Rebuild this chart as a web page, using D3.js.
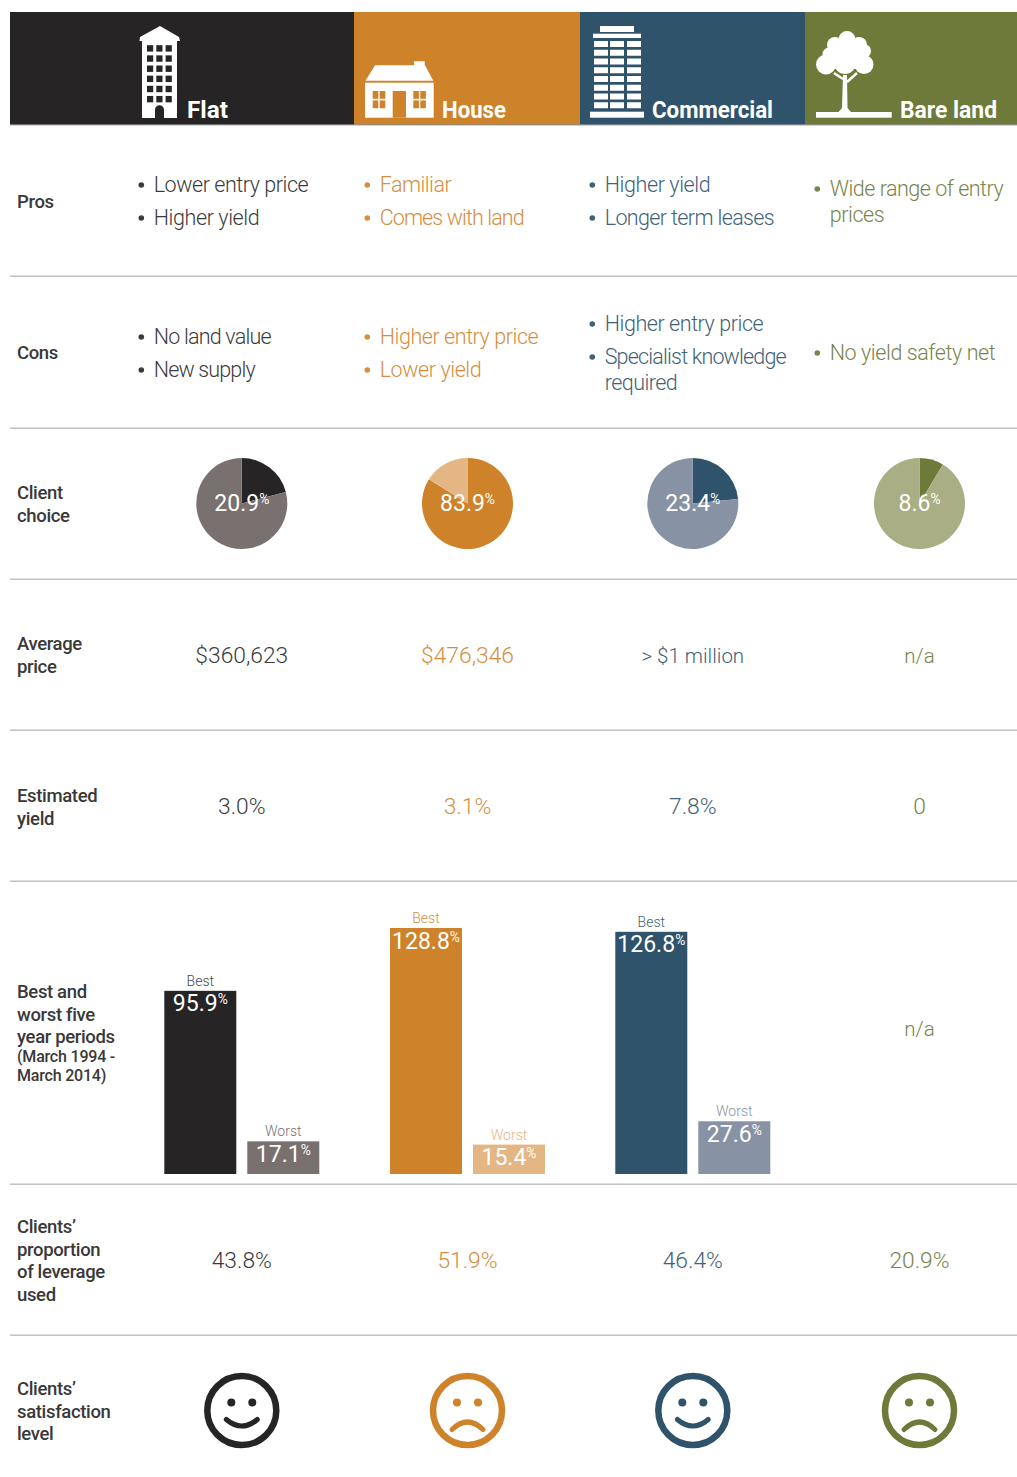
<!DOCTYPE html>
<html>
<head>
<meta charset="utf-8">
<script src="https://cdn.jsdelivr.net/npm/d3@7"></script>
<style>
  html, body { margin: 0; padding: 0; background: #fff; }
  svg { display: block; }
  text { font-family: Roboto, "Open Sans", sans-serif; }
</style>
</head>
<body>
<svg id="chart" width="1017" height="1477"></svg>
<script>
// Property type comparison table
const categories = ["Flat", "House", "Commercial", "Bare land"];
const mainColours = ["#272425", "#ce822a", "#2e536b", "#6e7a3a"];
const softColours = ["#787170", "#e4b684", "#8892a5", "#a9ae84"];
const textColours = ["#3c3a3b", "#d68e3e", "#3f6279", "#78854a"];

const pros = [
  ["Lower entry price", "Higher yield"],
  ["Familiar", "Comes with land"],
  ["Higher yield", "Longer term leases"],
  ["Wide range of entry|prices"]
];
const cons = [
  ["No land value", "New supply"],
  ["Higher entry price", "Lower yield"],
  ["Higher entry price", "Specialist knowledge|required"],
  ["No yield safety net"]
];
const clientChoice = [20.9, 83.9, 23.4, 8.6];
const averagePrice = ["$360,623", "$476,346", "> $1 million", "n/a"];
const estimatedYield = ["3.0%", "3.1%", "7.8%", "0"];
const bestPeriod = [95.9, 128.8, 126.8, null];
const worstPeriod = [17.1, 15.4, 27.6, null];
const leverage = [43.8, 51.9, 46.4, 20.9];
const satisfied = [true, false, true, false];

const rowLabels = [
  { y: 208, lines: ["Pros"] },
  { y: 359, lines: ["Cons"] },
  { y: 499, lines: ["Client", "choice"] },
  { y: 650, lines: ["Average", "price"] },
  { y: 802, lines: ["Estimated", "yield"] },
  { y: 998, lines: ["Best and", "worst five", "year periods"], notes: ["(March 1994 -", "March 2014)"] },
  { y: 1233, lines: ["Clients’", "proportion", "of leverage", "used"] },
  { y: 1395, lines: ["Clients’", "satisfaction", "level"] }
];
const ruleRows = [276, 428, 579, 730, 881, 1184, 1335];

// Set widths of the list lines, in pixels
const listWidths = {
  "Lower entry price": 155, "Higher yield": 106, "Familiar": 72, "Comes with land": 145,
  "Longer term leases": 170, "Wide range of entry": 174, "prices": 55, "No land value": 118,
  "New supply": 102, "Higher entry price": 159, "Lower yield": 102,
  "Specialist knowledge": 182, "required": 73, "No yield safety net": 166
};
const headerWidths = [41, 64, 121, 97];

const svg = d3.select("#chart");
const headerEdges = [10, 354, 580, 805, 1017];
const centres = [241.8, 467.5, 692.8, 919.5];
const bulletX = [141, 367, 592, 817];
const LIGHT = 300;

// Header bands
const header = svg.append("g");
header.selectAll("rect").data(categories).join("rect")
  .attr("x", (d, i) => headerEdges[i]).attr("y", 12)
  .attr("width", (d, i) => headerEdges[i + 1] - headerEdges[i]).attr("height", 113)
  .attr("fill", (d, i) => mainColours[i]);
header.append("rect").attr("x", 10).attr("y", 124).attr("width", 1007).attr("height", 1.5)
  .attr("fill", "#8c8c8c").attr("opacity", 0.75);
header.selectAll("text").data(categories).join("text")
  .attr("x", (d, i) => [187, 442, 652, 900][i]).attr("y", 118)
  .attr("fill", "#fff").attr("font-size", 24).attr("font-weight", 700)
  .attr("textLength", (d, i) => headerWidths[i]).attr("lengthAdjust", "spacingAndGlyphs")
  .text(d => d);

// Flat icon
const flat = svg.append("g").attr("fill", "#fff");
flat.append("path").attr("d", "M160 26L179 37L180 41L177 41L177 118L142 118L142 41L139.5 41L140 37Z");
d3.range(6).forEach(r => d3.range(3).forEach(c => {
  flat.append("rect").attr("x", 147 + c * 9.3).attr("y", 45.2 + r * 10.15)
    .attr("width", 6.2).attr("height", 6.4).attr("fill", mainColours[0]);
}));
flat.append("path").attr("d", "M155 118V110A4.5 4.8 0 0 1 164 110V118Z").attr("fill", mainColours[0]);

// House icon
const house = svg.append("g").attr("fill", "#fff");
house.append("path").attr("d", "M365.5 80.7L375 65.3H414V61.3H424.7V65.3H425L433.3 80.7Z");
house.append("rect").attr("x", 365).attr("y", 82.7).attr("width", 68.7).attr("height", 35);
house.append("rect").attr("x", 392.7).attr("y", 91).attr("width", 13.3).attr("height", 26.7).attr("fill", mainColours[1]);
[372.7, 413.3].forEach(x => {
  [[0, 0], [7, 0], [0, 9.4], [7, 9.4]].forEach(([dx, dy]) => {
    house.append("rect").attr("x", x + dx).attr("y", 91 + dy).attr("width", 5.6).attr("height", 7.8).attr("fill", mainColours[1]);
  });
});

// Commercial tower icon
const tower = svg.append("g").attr("fill", "#fff");
tower.append("rect").attr("x", 600).attr("y", 26).attr("width", 34).attr("height", 6);
tower.append("rect").attr("x", 593).attr("y", 33.7).attr("width", 48).attr("height", 4.3);
d3.range(8).forEach(r => {
  [[594, 14], [610, 14], [627, 14]].forEach(([x, w]) => {
    tower.append("rect").attr("x", x).attr("y", 41 + r * 8.75).attr("width", w).attr("height", 6);
  });
});
tower.append("rect").attr("x", 590).attr("y", 111.7).attr("width", 54).attr("height", 6);

// Tree icon: overlapping lobes for the crown, then trunk, branches and ground
const tree = svg.append("g").attr("fill", "#fff");
[[847, 39.5, 8.5], [835, 45, 8], [859, 45, 8], [846, 52, 15], [826, 64.5, 10], [864, 64.5, 9.5], [864, 51, 7], [829, 54, 6.5], [845, 63, 11], [835, 60, 9], [856, 60, 9]]
  .forEach(([x, y, r]) => tree.append("circle").attr("cx", x).attr("cy", y).attr("r", r));
tree.append("path").attr("d", "M843 75H847L847.5 108L851 112H838.5L842 108Z");
tree.append("path").attr("d", "M834 73L843 79M857 73L847 82").attr("stroke", "#fff").attr("stroke-width", 2.4).attr("fill", "none");
tree.append("rect").attr("x", 816).attr("y", 112).attr("width", 75.7).attr("height", 5.7);

// Row separators
svg.append("g").selectAll("rect").data(ruleRows).join("rect")
  .attr("x", 10).attr("width", 1007).attr("y", d => d - 0.5).attr("height", 1.4).attr("fill", "#bdbdbd");

// Row headings
rowLabels.forEach(row => {
  const g = svg.append("g").attr("fill", "#3a3839").attr("font-weight", 500);
  row.lines.forEach((t, i) => {
    g.append("text").attr("x", 17).attr("y", row.y + i * 22.5).attr("font-size", 18.5)
      .attr("letter-spacing", "-0.35px").text(t);
  });
  (row.notes || []).forEach((t, i) => {
    g.append("text").attr("x", 17).attr("y", row.y + row.lines.length * 21.3 + i * 19).attr("font-size", 16)
      .attr("letter-spacing", "-0.2px").text(t);
  });
});

// Bulleted lists
function drawList(items, baselines) {
  items.forEach((entries, col) => {
    let line = 0;
    const g = svg.append("g").attr("fill", textColours[col]).attr("font-size", 21.5)
      .attr("font-weight", LIGHT);
    entries.forEach(entry => {
      entry.split("|").forEach((part, k) => {
        const y = baselines[col][line++];
        if (k === 0) g.append("circle").attr("cx", bulletX[col] + 0.3).attr("cy", y - 7).attr("r", 2.8).attr("fill", textColours[col]);
        g.append("text").attr("x", bulletX[col] + 12.7).attr("y", y)
          .attr("textLength", listWidths[part]).attr("lengthAdjust", "spacing").text(part);
      });
    });
  });
}
drawList(pros, [[192, 225], [192, 225], [192, 225], [196, 222]]);
drawList(cons, [[344, 377], [344, 377], [331, 364, 390], [360]]);

// Text with a raised, smaller percent sign
function valueWithPercent(sel, value, x, y, size) {
  const t = sel.append("text").attr("x", x).attr("y", y).attr("text-anchor", "middle")
    .attr("fill", "#fff").attr("font-size", size).attr("font-weight", 400);
  t.append("tspan").text(d3.format(".1f")(value));
  t.append("tspan").text("%").attr("font-size", size * 0.6).attr("dy", -size * 0.3);
}

// Client choice pies
const pieR = 45.5;
const arc = d3.arc().innerRadius(0).outerRadius(pieR);
const pie = d3.pie().sort(null);
clientChoice.forEach((share, i) => {
  const g = svg.append("g").attr("transform", `translate(${centres[i]},503.5)`);
  g.selectAll("path").data(pie([share, 100 - share])).join("path")
    .attr("d", arc)
    .attr("fill", (d, k) => k === 0 ? mainColours[i] : softColours[i]);
  valueWithPercent(g, share, 0, 7.5, 23);
});

// Centred single-value rows
function drawValues(values, y) {
  svg.append("g").selectAll("text").data(values).join("text")
    .attr("x", (d, i) => centres[i]).attr("y", y).attr("text-anchor", "middle")
    .attr("fill", (d, i) => textColours[i]).attr("font-weight", LIGHT)
    .attr("font-size", d => /million|n\/a/.test(d) ? 20.5 : 22.8)
    .text(d => d);
}
drawValues(averagePrice, 663);
drawValues(estimatedYield, 814);
drawValues(leverage.map(v => d3.format(".1f")(v) + "%"), 1268);

// Best and worst five-year period bars
const barBase = 1174;
const barScale = d3.scaleLinear().domain([0, 128.8]).range([barBase, 928]);
const barBand = d3.scaleBand().domain(["Best", "Worst"]).range([-77.5, 77.5]).paddingInner(11 / 83).paddingOuter(0);
categories.forEach((name, i) => {
  if (bestPeriod[i] === null) return;
  [["Best", bestPeriod[i], mainColours[i], i === 0 ? "#4a4748" : textColours[i]],
   ["Worst", worstPeriod[i], softColours[i], softColours[i]]].forEach(([kind, v, fill, ink]) => {
    const x = centres[i] + barBand(kind);
    const w = barBand.bandwidth();
    svg.append("rect").attr("x", x).attr("y", barScale(v)).attr("width", w)
      .attr("height", barBase - barScale(v)).attr("fill", fill);
    svg.append("text").attr("x", x + w / 2).attr("y", barScale(v) - 5).attr("text-anchor", "middle")
      .attr("fill", ink).attr("font-size", 14).attr("font-weight", LIGHT).text(kind);
    valueWithPercent(svg, v, x + w / 2, barScale(v) + 20.5, 23);
  });
});
svg.append("text").attr("x", centres[3]).attr("y", 1036).attr("text-anchor", "middle")
  .attr("fill", textColours[3]).attr("font-size", 20.5).attr("font-weight", LIGHT).text("n/a");

// Satisfaction faces
satisfied.forEach((happy, i) => {
  const g = svg.append("g").attr("transform", `translate(${centres[i]},1410.5)`)
    .attr("stroke", mainColours[i]).attr("fill", "none");
  g.append("circle").attr("r", 34.5).attr("stroke-width", 6.5);
  [-10.5, 10.5].forEach(dx => g.append("circle").attr("cx", dx).attr("cy", -8).attr("r", 4)
    .attr("fill", mainColours[i]).attr("stroke", "none"));
  g.append("path").attr("stroke-width", 5).attr("stroke-linecap", "round")
    .attr("d", happy ? "M-15.5 9Q0 22 15.5 9" : "M-15.5 19Q0 4 15.5 19");
});
</script>
</body>
</html>
